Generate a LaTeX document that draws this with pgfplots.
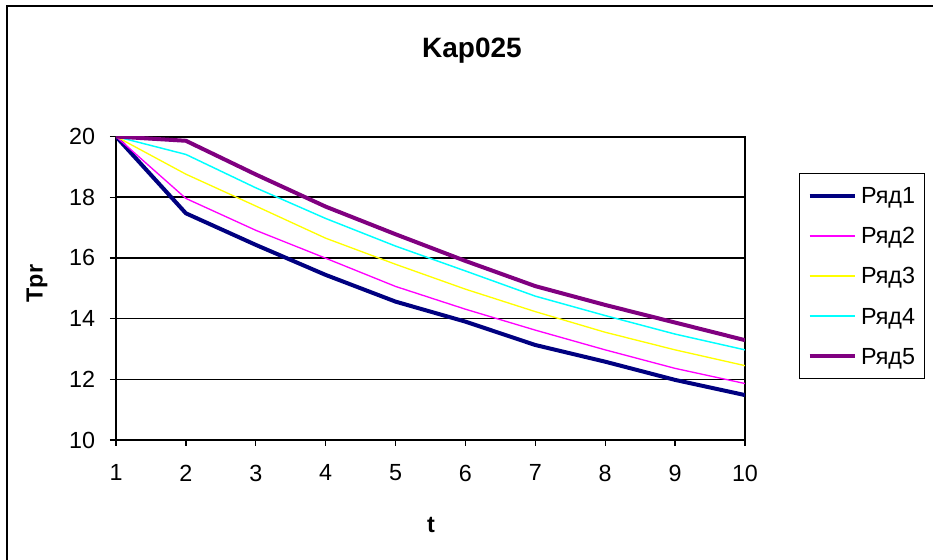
\documentclass[border=0pt]{standalone}
\usepackage{pgfplots}
\pgfplotsset{compat=1.18}
\usepackage{fontspec}
\setmainfont{Liberation Sans}
\definecolor{s1}{RGB}{0,0,128}
\definecolor{s2}{RGB}{255,0,255}
\definecolor{s3}{RGB}{255,255,0}
\definecolor{s4}{RGB}{0,255,255}
\definecolor{s5}{RGB}{128,0,128}
\begin{document}
\begin{tikzpicture}[x=0.75pt,y=0.75pt]
\useasboundingbox (0,0) rectangle (933,560);
\fill[white] (0,0) rectangle (933,560);
\draw[line width=1.5pt] (7,-5) -- (7,553.5) -- (940,553.5);
\node[font=\fontsize{21}{24}\selectfont\bfseries, anchor=base] at (472,502.7) {Kap025};
\node[font=\fontsize{17.5}{20}\selectfont\bfseries, rotate=90, anchor=center] at (37,276.5) {Tpr};
\node[font=\fontsize{17.5}{20}\selectfont\bfseries, anchor=base] at (431,27) {t};
\begin{axis}[
  at={(87pt,90pt)}, anchor=south west,
  scale only axis, width=471.75pt, height=227.6pt,
  xmin=1, xmax=10, ymin=10, ymax=20,
  xtick={1,...,10}, ytick={10,12,...,20},
  xtick pos=bottom, ytick pos=left,
  tick align=outside, major tick length=4.5pt,
  tick style={black, line width=1pt},
  axis line style={black, line width=1.5pt},
  ymajorgrids, grid style={black, line width=1.2pt},
  /pgf/number format/assume math mode=true,
  tick label style={font=\fontsize{17.5}{20}\selectfont},
  yticklabel style={inner sep=0pt, anchor=east, xshift=-11pt},
  xticklabel style={inner sep=0pt, anchor=north, yshift=-14pt},
  legend style={at={(rel axis cs:1.0859,0.8797)}, anchor=north west,
    draw=black, line width=1pt, inner xsep=6pt, inner ysep=9.5pt,
    font=\fontsize{17.5}{20}\selectfont, row sep=16.1pt,
    nodes={inner sep=1pt, text height=12pt, text depth=0pt},
    /tikz/every odd column/.append style={column sep=2pt}},
  legend cell align=left,
  legend image code/.code={\draw[#1] (2pt,0pt) -- (36pt,0pt);},
]
\addplot[s1, line width=3pt] coordinates {(1,20) (2,17.47) (3,16.43) (4,15.44) (5,14.56) (6,13.90) (7,13.13) (8,12.58) (9,11.98) (10,11.48)};
\addplot[s2, line width=1pt] coordinates {(1,20) (2,17.96) (3,16.91) (4,15.99) (5,15.06) (6,14.31) (7,13.62) (8,12.97) (9,12.36) (10,11.86)};
\addplot[s3, line width=1pt] coordinates {(1,20) (2,18.76) (3,17.71) (4,16.65) (5,15.79) (6,14.97) (7,14.23) (8,13.55) (9,12.97) (10,12.45)};
\addplot[s4, line width=1.1pt] coordinates {(1,20) (2,19.41) (3,18.31) (4,17.30) (5,16.39) (6,15.57) (7,14.74) (8,14.10) (9,13.49) (10,12.97)};
\addplot[s5, line width=3pt] coordinates {(1,20) (2,19.86) (3,18.75) (4,17.69) (5,16.78) (6,15.90) (7,15.07) (8,14.45) (9,13.87) (10,13.29)};
\legend{Ряд1,Ряд2,Ряд3,Ряд4,Ряд5}
\end{axis}
\end{tikzpicture}
\end{document}
